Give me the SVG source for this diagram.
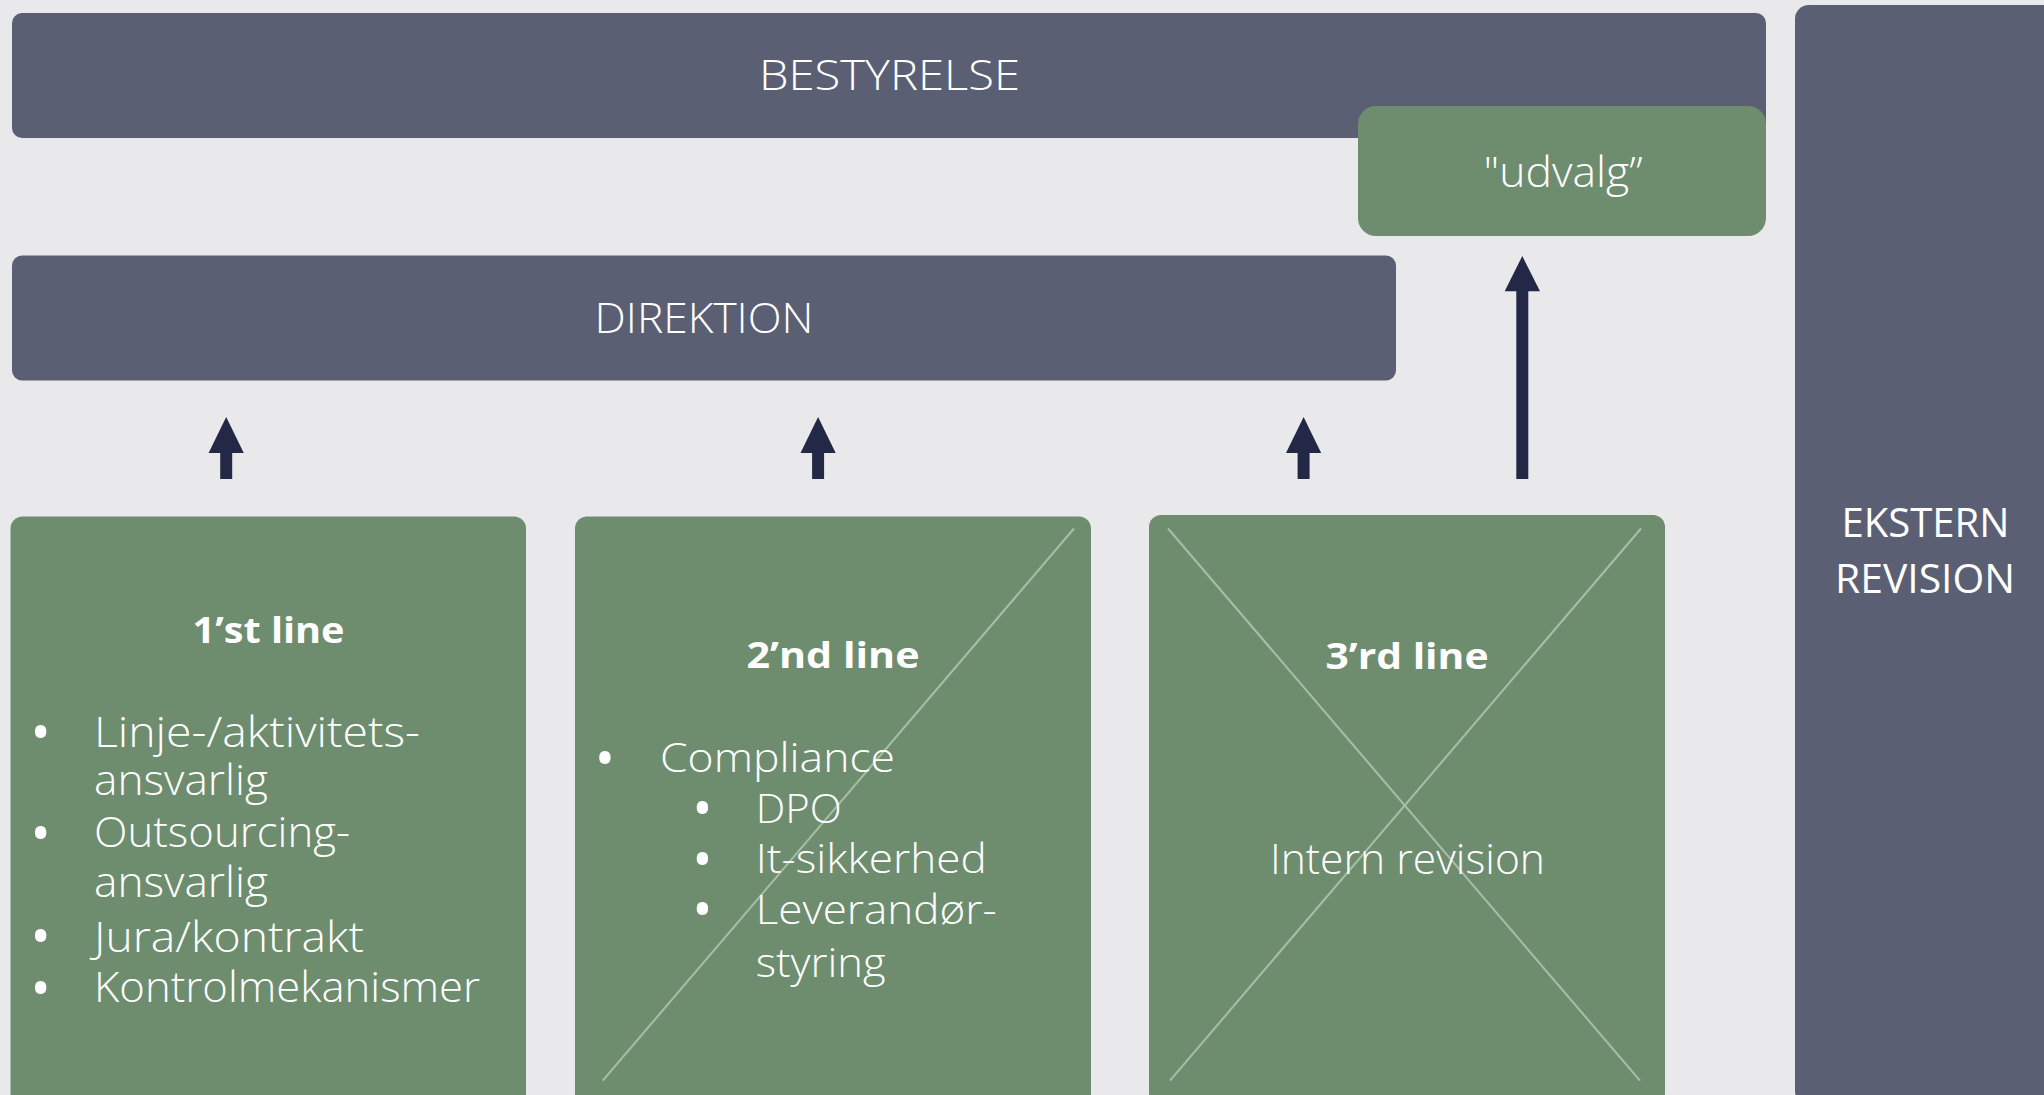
<svg xmlns="http://www.w3.org/2000/svg" width="2044" height="1095" viewBox="0 0 2044 1095">
<style>
.bar{fill:#5b5f73}
.grn{fill:#6e8d6f}
.lt{font-family:"Open Sans","Liberation Sans",sans-serif;font-weight:300;fill:#ffffff}
.rg{font-family:"Open Sans","Liberation Sans",sans-serif;font-weight:400;fill:#ffffff}
.bd{font-family:"Open Sans","Liberation Sans",sans-serif;font-weight:700;fill:#ffffff}
.bul{font-family:"Open Sans","Liberation Sans",sans-serif;font-weight:400;fill:#ffffff;font-size:54px;text-anchor:middle}
.diag{stroke:#a9bea7;stroke-width:2;fill:none}
.arr{fill:#232846}
</style>
<rect x="0" y="0" width="2044" height="1095" fill="#e9e9eb"/>
<g id="bestyrelse">
<rect class="bar" x="12" y="13" width="1754" height="125" rx="10"/>
<text class="lt" x="889.5" y="90" font-size="43" text-anchor="middle" textLength="261" lengthAdjust="spacingAndGlyphs">BESTYRELSE</text>
</g>
<g id="udvalg">
<rect class="grn" x="1358" y="106" width="408" height="130" rx="18"/>
<text class="lt" x="1563" y="187" font-size="43" text-anchor="middle" textLength="159" lengthAdjust="spacingAndGlyphs">"udvalg”</text>
</g>
<g id="direktion">
<rect class="bar" x="12" y="255.5" width="1384" height="125" rx="10"/>
<text class="lt" x="704" y="332.7" font-size="43" text-anchor="middle" textLength="219" lengthAdjust="spacingAndGlyphs">DIREKTION</text>
</g>
<g id="ekstern-revision">
<rect class="bar" x="1795" y="5" width="270" height="1100" rx="14"/>
<text class="rg" x="1925.5" y="537.3" font-size="40" text-anchor="middle" textLength="168" lengthAdjust="spacingAndGlyphs">EKSTERN</text>
<text class="rg" x="1925" y="593.3" font-size="40" text-anchor="middle" textLength="180" lengthAdjust="spacingAndGlyphs">REVISION</text>
</g>
<g id="line1">
<rect class="grn" x="10.5" y="516.5" width="515.5" height="590" rx="12"/>
<text class="bd" x="268.5" y="642.7" font-size="35" text-anchor="middle" textLength="152" lengthAdjust="spacingAndGlyphs">1’st line</text>
<text class="bul" x="40.7" y="751.7">•</text>
<text class="bul" x="40.7" y="852.7">•</text>
<text class="bul" x="40.7" y="956.1">•</text>
<text class="bul" x="40.7" y="1007.7">•</text>
<g class="lt" font-size="43">
<text x="94" y="746.7" textLength="326" lengthAdjust="spacingAndGlyphs">Linje-/aktivitets-</text>
<text x="94" y="795" textLength="174" lengthAdjust="spacingAndGlyphs">ansvarlig</text>
<text x="94" y="847.3" textLength="256" lengthAdjust="spacingAndGlyphs">Outsourcing-</text>
<text x="94" y="896.7" textLength="174" lengthAdjust="spacingAndGlyphs">ansvarlig</text>
<text x="94" y="951.7" textLength="270" lengthAdjust="spacingAndGlyphs">Jura/kontrakt</text>
<text x="94" y="1002.3" textLength="386" lengthAdjust="spacingAndGlyphs">Kontrolmekanismer</text>
</g>
</g>
<g id="line2">
<rect class="grn" x="575" y="516.5" width="516" height="590" rx="12"/>
<line class="diag" x1="1074" y1="528.5" x2="602.7" y2="1080.7"/>
<text class="bd" x="833" y="668.3" font-size="35" text-anchor="middle" textLength="173" lengthAdjust="spacingAndGlyphs">2’nd line</text>
<text class="bul" x="605" y="777.7">•</text>
<text class="bul" x="702.3" y="827.7">•</text>
<text class="bul" x="702.3" y="878.7">•</text>
<text class="bul" x="702.3" y="928.7">•</text>
<g class="lt" font-size="41">
<text x="660" y="772.3" textLength="235" lengthAdjust="spacingAndGlyphs">Compliance</text>
<text x="755.7" y="822.7" textLength="86" lengthAdjust="spacingAndGlyphs">DPO</text>
<text x="755.7" y="873.3" textLength="231" lengthAdjust="spacingAndGlyphs">It-sikkerhed</text>
<text x="755.7" y="924.3" textLength="241" lengthAdjust="spacingAndGlyphs">Leverandør-</text>
<text x="755.7" y="976.7" textLength="130" lengthAdjust="spacingAndGlyphs">styring</text>
</g>
</g>
<g id="line3">
<rect class="grn" x="1149" y="515" width="516" height="590" rx="12"/>
<line class="diag" x1="1168" y1="528.5" x2="1640" y2="1080.6"/>
<line class="diag" x1="1641" y1="528.5" x2="1170" y2="1080.6"/>
<text class="bd" x="1407" y="669" font-size="35" text-anchor="middle" textLength="163" lengthAdjust="spacingAndGlyphs">3’rd line</text>
<text class="lt" x="1407.5" y="874" font-size="42" text-anchor="middle" textLength="275" lengthAdjust="spacingAndGlyphs">Intern revision</text>
</g>
<g id="connectors">
<path class="arr" d="M226.2 417 L243.8 453 L232.2 453 L232.2 479 L220.2 479 L220.2 453 L208.6 453 Z"/>
<path class="arr" d="M818.1 417 L835.7 453 L824.1 453 L824.1 479 L812.1 479 L812.1 453 L800.5 453 Z"/>
<path class="arr" d="M1303.6 417 L1321.2 453 L1309.6 453 L1309.6 479 L1297.6 479 L1297.6 453 L1286 453 Z"/>
<path class="arr" d="M1522.3 256 L1540 291.3 L1528.3 291.3 L1528.3 479 L1516.3 479 L1516.3 291.3 L1504.7 291.3 Z"/>
</g>
</svg>
